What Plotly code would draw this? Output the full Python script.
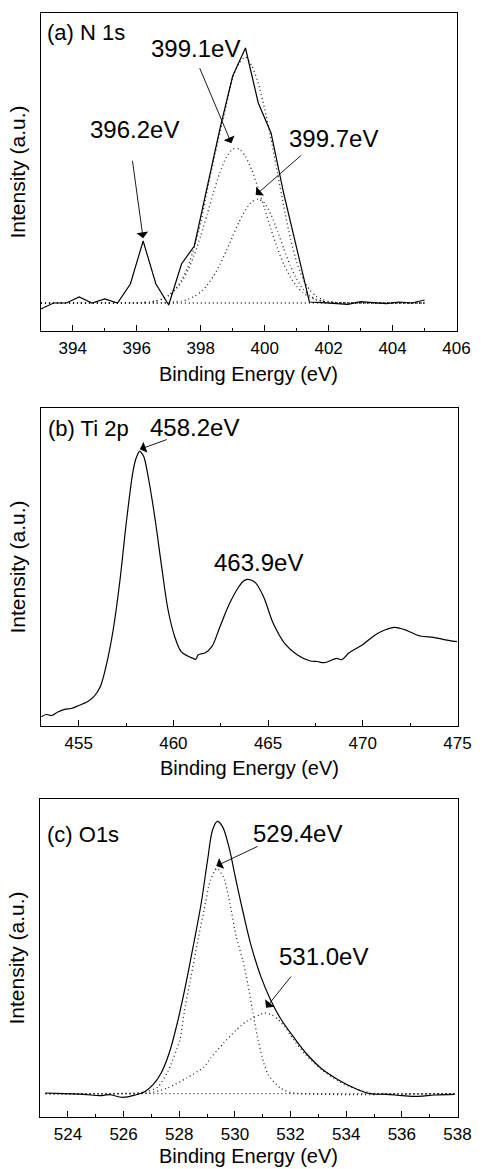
import plotly.graph_objects as go

# ---------------- (a) N 1s ----------------
n1s_energy = [393.0, 393.4, 393.8, 394.2, 394.6, 395.0, 395.4, 395.8, 396.2, 396.6,
              397.0, 397.4, 397.8, 398.2, 398.6, 399.0, 399.4, 399.8, 400.2, 400.6,
              401.0, 401.4, 401.8, 402.2, 402.6, 403.0, 403.4, 403.8, 404.2, 404.6, 405.0]
n1s_intensity = [22, 28, 28, 34, 28, 32, 28, 47, 90, 47,
                 26, 67, 85, 143, 202, 255, 283, 228, 198, 137,
                 82, 29, 28.3, 27.7, 26.7, 29.3, 28.3, 27.3, 29, 28, 31]

n1s_fit_energy = [393.0, 396.0, 396.2, 396.4, 396.6, 396.8, 397.0, 397.2, 397.4, 397.6,
                  397.8, 398.0, 398.2, 398.4, 398.6, 398.8, 399.0, 399.2, 399.4, 399.6,
                  399.8, 400.0, 400.2, 400.4, 400.6, 400.8, 401.0, 401.2, 401.4, 401.6,
                  401.8, 402.0, 402.2, 402.4, 402.6, 405.0]
n1s_envelope = [28, 28.2, 28.5, 29.0, 30.1, 32.2, 35.8, 41.7, 50.8, 64.3,
                84, 108, 140, 170, 198, 226, 253, 268, 274, 265,
                248, 222, 192, 158, 124, 93, 69, 52, 41.5, 35.1,
                31.5, 29.6, 28.7, 28.3, 28.1, 28]
n1s_peak_3991 = [28, 28.2, 28.5, 29.0, 30.0, 32.0, 35.3, 40.7, 48.9, 60.7,
                 76.1, 95.1, 116.5, 138.4, 158.4, 173.7, 181.9, 182.1, 174.6, 160.8,
                 142.5, 122.1, 101.5, 82.6, 66.6, 54.0, 44.7, 38.2, 33.9, 31.3,
                 29.7, 28.9, 28.4, 28.2, 28.1, 28]
n1s_peak_3997 = [28, 28.0, 28.0, 28.0, 28.1, 28.2, 28.5, 29.0, 29.9, 31.6,
                 34.6, 39.0, 45.7, 54.8, 66.4, 80.0, 94.8, 109.1, 121.1, 129.2,
                 132.0, 127.8, 116.3, 100.1, 82.1, 65.5, 51.9, 42.1, 35.6, 31.8,
                 29.8, 28.7, 28.3, 28.1, 28.0, 28]
n1s_base_energy = [393.0, 405.0]
n1s_base = [28, 28]

# ---------------- (b) Ti 2p ----------------
ti_energy = [453.03, 453.3, 453.58, 453.9, 454.26, 454.6, 454.95, 455.2, 455.46, 455.8,
             456.14, 456.48, 456.82, 457.16, 457.51, 457.85, 458.0, 458.1, 458.22, 458.32,
             458.44, 458.7, 459.04, 459.38, 459.72, 460.07, 460.41, 460.75, 461.0, 461.18,
             461.3, 461.43, 461.69, 462.03, 462.46, 462.97, 463.48, 463.7, 463.91, 464.1,
             464.33, 464.76, 465.27, 465.87, 466.55, 467.23, 467.6, 467.92, 468.25, 468.6,
             468.9, 469.28, 469.97, 470.65, 471.16, 471.67, 472.0, 472.35, 473.04, 473.72,
             474.23, 474.97]
ti_intensity = [9.3, 11.5, 10.5, 14, 16.7, 17.5, 20, 22, 24.3, 29.3,
                39.3, 62.7, 96, 142.7, 202.7, 252.7, 266, 271, 275, 273,
                269.3, 246, 206, 159.3, 116, 89.3, 74.3, 70, 68, 66.7,
                71, 72, 73.3, 79.3, 99.3, 122.7, 140, 145, 146.7, 146,
                143.3, 129.3, 102.7, 82.7, 71, 65, 64.5, 63.3, 65, 67.7,
                66.5, 73.3, 81, 91, 96, 98.7, 97.5, 95.3, 90, 88.7,
                86.7, 84.3]

# ---------------- (c) O 1s ----------------
o1s_energy = [523.19, 523.88, 524.57, 525.15, 525.5, 525.96, 526.42, 526.77, 527.06, 527.35,
              527.64, 527.93, 528.22, 528.5, 528.79, 529.02, 529.2, 529.37, 529.55, 529.78,
              530.01, 530.3, 530.59, 530.93, 531.28, 531.63, 532.09, 532.55, 533.13, 533.71,
              534.29, 534.86, 535.44, 536.02, 536.6, 537.18, 537.9]
o1s_intensity = [24, 23.3, 22.7, 21.3, 22.3, 19.6, 22, 25.6, 32.3, 44,
                 64, 94, 130.6, 170.6, 214, 257.3, 287.3, 295.6, 290.6, 270.6,
                 240.6, 204, 170.6, 140.6, 117.3, 99, 80.6, 64, 48, 37.3,
                 29, 23.3, 22.7, 21.3, 20.6, 22, 22.7]
o1s_p1_energy = [523.19, 526.77, 527.23, 527.58, 528.02, 528.19, 528.42, 528.65, 528.89, 529.12,
                 529.35, 529.59, 529.82, 530.05, 530.28, 530.46, 530.63, 530.81, 531.04, 531.2,
                 531.63, 532.09, 537.9]
o1s_p1 = [23.3, 25, 30, 45, 77, 107, 140, 173.7, 207, 237,
          248.7, 240, 213.7, 180, 157, 133.7, 107, 80, 53.7, 42,
          29, 24, 23.3]
o1s_p2_energy = [523.19, 526.9, 527.58, 528.27, 528.89, 529.12, 529.59, 530.05, 530.4, 530.87,
                 531.05, 531.33, 531.57, 531.8, 532.09, 532.55, 533.13, 533.71, 534.29, 534.86,
                 535.5, 537.9]
o1s_p2 = [23.3, 24, 29, 39, 50, 58.7, 73.7, 87, 95.3, 102,
          104, 102, 97, 90, 78, 62, 47, 36, 28.5, 24,
          23.3, 23.3]
o1s_base_energy = [523.19, 537.9]
o1s_base = [23.3, 23.3]

x_title = "Binding Energy (eV)"
y_title = "Intensity (a.u.)"

FONT = "Liberation Sans, Arial, sans-serif"
W, H = 489, 1169
DOT = "1px,3px"

fig = go.Figure()

def solid(x, y, xa, ya, shape="linear"):
    fig.add_trace(go.Scatter(x=x, y=y, xaxis=xa, yaxis=ya, mode="lines",
                             line=dict(color="black", width=1.2, shape=shape),
                             showlegend=False, hoverinfo="skip"))

def dotted(x, y, xa, ya, shape="spline"):
    fig.add_trace(go.Scatter(x=x, y=y, xaxis=xa, yaxis=ya, mode="lines",
                             line=dict(color="#222", width=1.3, dash=DOT, shape=shape, smoothing=0.6),
                             showlegend=False, hoverinfo="skip"))

# (a)
dotted(n1s_base_energy, n1s_base, "x", "y", "linear")
dotted(n1s_fit_energy, n1s_peak_3991, "x", "y")
dotted(n1s_fit_energy, n1s_peak_3997, "x", "y")
dotted(n1s_fit_energy, n1s_envelope, "x", "y")
solid(n1s_energy, n1s_intensity, "x", "y")
# (b)
solid(ti_energy, ti_intensity, "x2", "y2", "spline")
# (c)
dotted(o1s_base_energy, o1s_base, "x3", "y3", "linear")
dotted(o1s_p1_energy, o1s_p1, "x3", "y3")
dotted(o1s_p2_energy, o1s_p2, "x3", "y3")
solid(o1s_energy, o1s_intensity, "x3", "y3", "spline")

# panel frames in pixels: (left, top, right, bottom)
frames = [(42, 13, 470, 331), (42, 408, 471, 726), (41.3, 799, 471, 1117)]
xranges = [[393, 406], [453, 475], [523, 538]]
dticks = [2, 5, 2]
minors = [1, 2.5, 1]
title_centers = [374, 768, 1156]

layout = dict(width=W, height=H, margin=dict(l=0, r=0, t=0, b=0),
              paper_bgcolor="white", plot_bgcolor="white",
              font=dict(family=FONT, color="black"))

for i, ((l, t, r, b), xr, dt, mn) in enumerate(zip(frames, xranges, dticks, minors)):
    sfx = "" if i == 0 else str(i + 1)
    layout["xaxis" + sfx] = dict(
        domain=[l / W, r / W], anchor="y" + sfx, range=xr, dtick=dt, tick0=0,
        ticks="inside", ticklen=6, tickwidth=1, tickcolor="black",
        minor=dict(dtick=mn, ticks="inside", ticklen=3, tickwidth=1, tickcolor="black", showgrid=False),
        showline=True, linecolor="black", linewidth=1.2, mirror=True,
        showgrid=False, zeroline=False, ticklabelstandoff=1,
        tickfont=dict(size=17, family=FONT),
    )
    layout["yaxis" + sfx] = dict(
        domain=[1 - b / H, 1 - t / H], anchor="x" + sfx, range=[0, 318],
        showticklabels=False, ticks="", showline=True, linecolor="black", linewidth=1.2,
        mirror=True, showgrid=False, zeroline=False,
        title=dict(text=y_title, font=dict(size=21, family=FONT), standoff=8),
    )

fig.update_layout(**layout)

# x-axis titles placed precisely under each panel
for (l, t, r, b), yc in zip(frames, title_centers):
    if yc > 1150:
        fig.add_annotation(text=x_title, x=(l + r) / 2 / W, y=0, xref="paper", yref="paper",
                           xanchor="center", yanchor="bottom", showarrow=False,
                           font=dict(size=20, family=FONT, color="black"))
    else:
        fig.add_annotation(text=x_title, x=(l + r) / 2 / W, y=1 - yc / H, xref="paper", yref="paper",
                           xanchor="center", yanchor="middle", showarrow=False,
                           font=dict(size=20, family=FONT, color="black"))

def label(text, x, y, xa, ya, size=24, xanchor="center"):
    fig.add_annotation(text=text, x=x, y=y, xref=xa, yref=ya, showarrow=False,
                       xanchor=xanchor, yanchor="middle", font=dict(size=size, family=FONT, color="black"))

def arrow(x, y, ax, ay, xa, ya):
    fig.add_annotation(text="", x=x, y=y, ax=ax, ay=ay, xref=xa, yref=ya, axref=xa, ayref=ya,
                       showarrow=True, arrowhead=1, arrowsize=2.2, arrowwidth=0.9,
                       arrowcolor="black", standoff=0, startstandoff=0)

# (a)
label("(a) N 1s", 393.14, 299, "x", "y", size=22, xanchor="left")
label("399.1eV", 397.85, 283, "x", "y")
label("396.2eV", 395.92, 202, "x", "y")
label("399.7eV", 402.14, 193, "x", "y")
arrow(396.2, 92.7, 395.86, 171.7, "x", "y")
arrow(398.96, 187.7, 397.95, 264.3, "x", "y")
arrow(399.72, 136, 401.19, 177, "x", "y")
# (b)
label("(b) Ti 2p", 453.27, 298, "x2", "y2", size=22, xanchor="left")
label("458.2eV", 461.1, 299, "x2", "y2")
label("463.9eV", 464.49, 164, "x2", "y2")
arrow(458.23, 276.7, 459.73, 287, "x2", "y2")
# (c)
label("(c) O1s", 523.19, 283, "x3", "y3", size=22, xanchor="left")
label("529.4eV", 532.24, 284, "x3", "y3")
label("531.0eV", 533.18, 161, "x3", "y3")
arrow(529.33, 251, 530.87, 271.3, "x3", "y3")
arrow(531.12, 109.3, 532.06, 142, "x3", "y3")

fig.write_html("out.html", config={"displayModeBar": False},
               post_script="document.body.style.margin='0';document.body.style.overflow='hidden';")
